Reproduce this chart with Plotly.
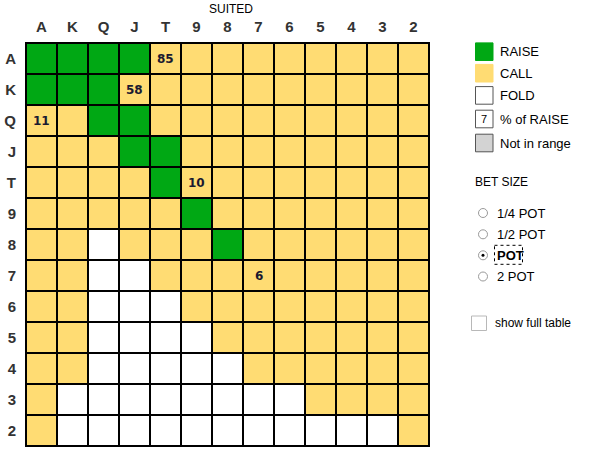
import plotly.graph_objects as go

ranks = ["A", "K", "Q", "J", "T", "9", "8", "7", "6", "5", "4", "3", "2"]

# R = raise, C = call, F = fold  (rows top->bottom, columns left->right)
actions = [
    "RRRRCCCCCCCCC",
    "RRRCCCCCCCCCC",
    "CCRRCCCCCCCCC",
    "CCCRRCCCCCCCC",
    "CCCCRCCCCCCCC",
    "CCCCCRCCCCCCC",
    "CCFCCCRCCCCCC",
    "CCFFCCCCCCCCC",
    "CCFFFCCCCCCCC",
    "CCFFFFCCCCCCC",
    "CCFFFFFCCCCCC",
    "CFFFFFFFFCCCC",
    "CFFFFFFFFFFFC",
]

# % of raise labels: (row rank, column rank, value)
pct_rows = ["A", "K", "Q", "T", "7"]
pct_cols = ["T", "J", "A", "9", "7"]
pct_vals = [85, 58, 11, 10, 6]

legend_labels = ["RAISE", "CALL", "FOLD", "% of RAISE", "Not in range"]
legend_colors = ["#00A814", "#FFDC73", "#FFFFFF", "#FFFFFF", "#D3D3D3"]
bet_sizes = ["1/4 POT", "1/2 POT", "POT", "2 POT"]
bet_selected = "POT"

code = {"R": 0, "C": 1, "F": 2}
z = [[code[ch] for ch in row] for row in actions]
idx = list(range(len(ranks)))

GREEN, YELLOW, WHITE = "#00A814", "#FFDC73", "#FFFFFF"
colorscale = [[0, GREEN], [0.25, GREEN], [0.25, YELLOW], [0.75, YELLOW],
              [0.75, WHITE], [1, WHITE]]

W, H = 603, 450
L, R, T, B = 26, 174, 43, 4
PW, PH = W - L - R, H - T - B


def px(x):
    return (x - L) / PW


def py(y):
    return 1 - (y - T) / PH


def note(x, y, text, size=13, anchor="left", bold=False, family="Arial"):
    return dict(x=px(x), y=py(y), xref="paper", yref="paper",
                text=f"<b>{text}</b>" if bold else text,
                xanchor=anchor, yanchor="middle", showarrow=False,
                font=dict(family=family, size=size, color="#000"))


fig = go.Figure(go.Heatmap(
    z=z, x=idx, y=idx, colorscale=colorscale, zmin=0, zmax=2,
    showscale=False, xgap=2, ygap=2, hoverinfo="skip",
))

annotations = []
for r, c, v in zip(pct_rows, pct_cols, pct_vals):
    annotations.append(dict(x=ranks.index(c), y=ranks.index(r), xref="x", yref="y",
                            text=f"<b>{v}</b>", showarrow=False,
                            xanchor="center", yanchor="middle",
                            font=dict(family="DejaVu Sans", size=12, color="#1a1a30")))

annotations.append(note(231, 9.5, "SUITED", size=12, anchor="center"))

shapes = []
ys = [51.7, 73.2, 95.4, 119, 143]
for lab, col, yc in zip(legend_labels, legend_colors, ys):
    line_col = col if col in (GREEN, YELLOW) else "#555555"
    shapes.append(dict(type="rect", xref="paper", yref="paper",
                       x0=px(475.5), x1=px(493), y0=py(yc - 8.8), y1=py(yc + 8.8),
                       fillcolor=col, line=dict(color=line_col, width=1)))
    annotations.append(note(498, yc, lab))
annotations.append(note(484.2, 119, "7", size=11, anchor="center"))

annotations.append(note(473, 182, "BET SIZE", size=12))

rys = [213, 234.3, 255.3, 276.5]
for lab, yc in zip(bet_sizes, rys):
    sel = lab == bet_selected
    shapes.append(dict(type="circle", xref="paper", yref="paper",
                       x0=px(478.5), x1=px(487.5), y0=py(yc - 4.5), y1=py(yc + 4.5),
                       fillcolor="#FFFFFF", line=dict(color="#9a9a9a", width=1)))
    if sel:
        shapes.append(dict(type="circle", xref="paper", yref="paper",
                           x0=px(481.5), x1=px(484.5), y0=py(yc - 1.5), y1=py(yc + 1.5),
                           fillcolor="#000000", line=dict(color="#000", width=0)))
        shapes.append(dict(type="rect", xref="paper", yref="paper",
                           x0=px(494.5), x1=px(522.5), y0=py(yc - 10), y1=py(yc + 9),
                           fillcolor="rgba(0,0,0,0)",
                           line=dict(color="#000", width=1, dash="dot")))
    annotations.append(note(495, yc, lab, bold=sel))

shapes.append(dict(type="rect", xref="paper", yref="paper",
                   x0=px(471.5), x1=px(486.5), y0=py(316), y1=py(330.5),
                   fillcolor="#FFFFFF", line=dict(color="#b8b8b8", width=1)))
annotations.append(note(493, 323, "show full table", size=12))

tick_font = dict(family="Arial", size=15, color="#333333")
fig.update_layout(
    width=W, height=H, margin=dict(l=L, r=R, t=T, b=B, autoexpand=False),
    paper_bgcolor="white", plot_bgcolor="black",
    xaxis=dict(side="top", tickvals=idx, ticktext=[f"<b>{r}</b>" for r in ranks],
               tickfont=tick_font, showgrid=False, zeroline=False,
               showline=True, mirror=True, linecolor="black", linewidth=1,
               ticklabelstandoff=4, fixedrange=True, automargin=False,
               range=[-0.5, 12.5]),
    yaxis=dict(range=[12.5, -0.5], tickvals=idx, ticktext=[f"<b>{r}</b>" for r in ranks],
               tickfont=tick_font, showgrid=False, zeroline=False,
               showline=True, mirror=True, linecolor="black", linewidth=1,
               ticklabelstandoff=6, fixedrange=True, automargin=False),
    annotations=annotations, shapes=shapes, showlegend=False,
)

fig.write_html("out.html", post_script="document.body.style.margin='0';",
               config={"displayModeBar": False})
